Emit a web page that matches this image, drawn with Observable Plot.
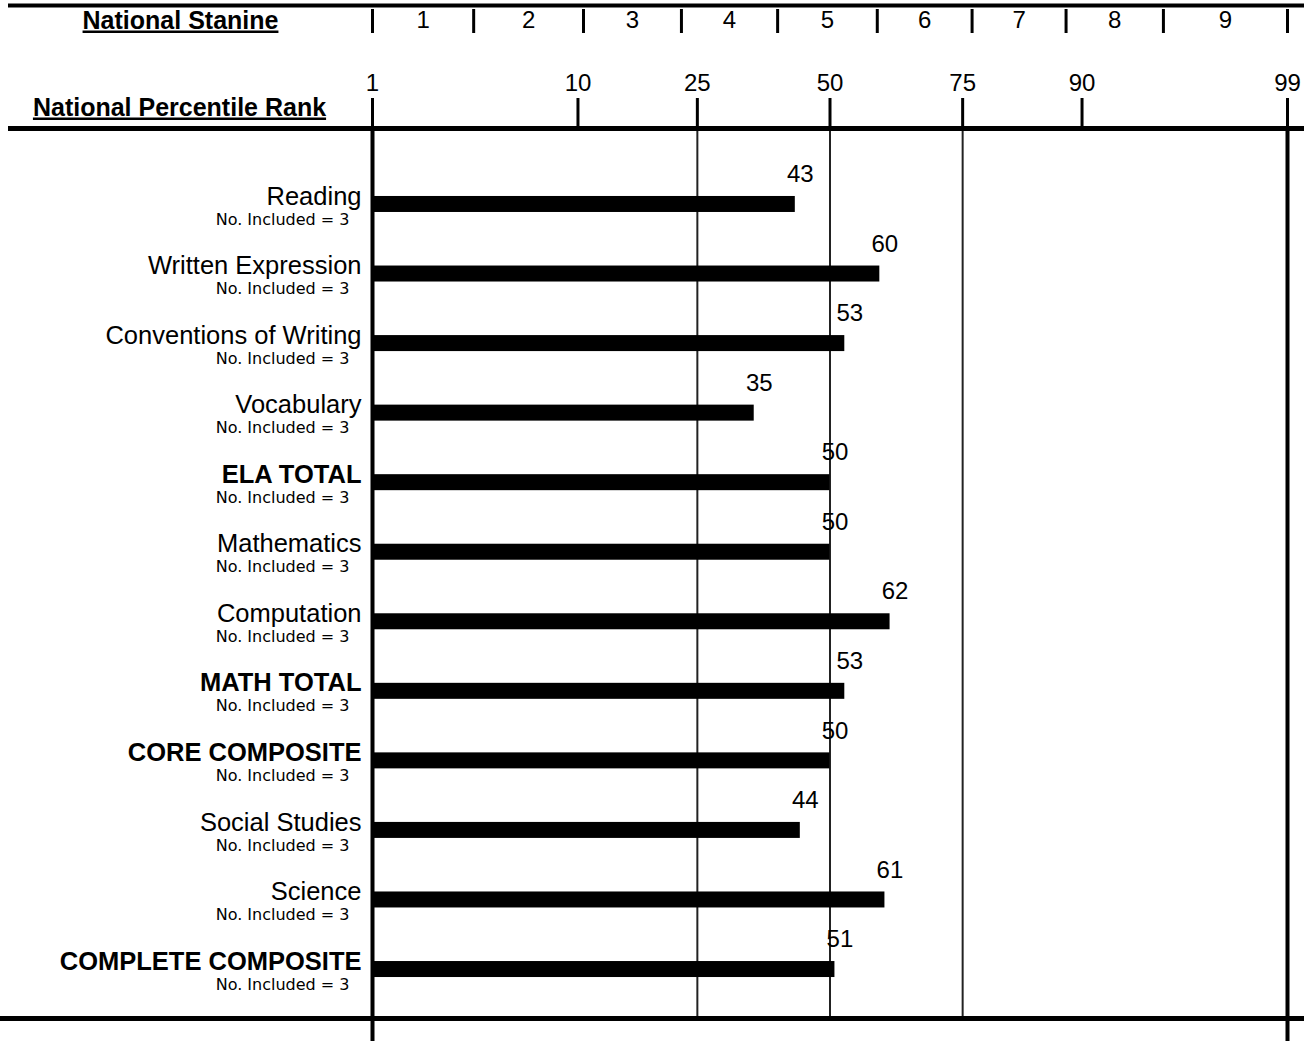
<!DOCTYPE html>
<html><head><meta charset="utf-8">
<script src="https://cdn.jsdelivr.net/npm/d3@7"></script>
<script src="https://cdn.jsdelivr.net/npm/@observablehq/plot@0.6"></script>
<style>body{margin:0;background:#fff}</style>
</head><body><div id="chart"></div>
<script>
// ---- data ----
const CATEGORIES = ["Reading","Written Expression","Conventions of Writing","Vocabulary","ELA TOTAL","Mathematics","Computation","MATH TOTAL","CORE COMPOSITE","Social Studies","Science","COMPLETE COMPOSITE"];
const BOLD = [false,false,false,false,true,false,false,true,true,false,false,true];
const N_INCLUDED = [3,3,3,3,3,3,3,3,3,3,3,3];
const PERCENTILES = [43,60,53,35,50,50,62,53,50,44,61,51];
const PR_TICKS = [1,10,25,50,75,90,99];
const REF_LINES = [25,50,75];
const EDGE_LINES = [1,99];
const STANINE_LABELS = ["1","2","3","4","5","6","7","8","9"];
const STANINE_BOUNDS = [1,3.5,10.5,22.5,39.5,59.5,76.5,88.5,95.5,99];

// inverse normal CDF (normal-probability percentile scale)
function probit(p) {
  const a=[-3.969683028665376e+01,2.209460984245205e+02,-2.759285104469687e+02,1.383577518672690e+02,-3.066479806614716e+01,2.506628277459239e+00];
  const b=[-5.447609879822406e+01,1.615858368580409e+02,-1.556989798598866e+02,6.680131188771972e+01,-1.328068155288572e+01];
  const c=[-7.784894002430293e-03,-3.223964580411365e-01,-2.400758277161838e+00,-2.549732539343734e+00,4.374664141464968e+00,2.938163982698783e+00];
  const d=[7.784695709041462e-03,3.224671290700398e-01,2.445134137142996e+00,3.754408661907416e+00];
  const pl=0.02425, ph=1-pl;
  if (p < pl) { const q=Math.sqrt(-2*Math.log(p)); return (((((c[0]*q+c[1])*q+c[2])*q+c[3])*q+c[4])*q+c[5])/((((d[0]*q+d[1])*q+d[2])*q+d[3])*q+1); }
  if (p <= ph) { const q=p-0.5, r=q*q; return (((((a[0]*r+a[1])*r+a[2])*r+a[3])*r+a[4])*r+a[5])*q/(((((b[0]*r+b[1])*r+b[2])*r+b[3])*r+b[4])*r+1); }
  const q=Math.sqrt(-2*Math.log(1-p)); return -(((((c[0]*q+c[1])*q+c[2])*q+c[3])*q+c[4])*q+c[5])/((((d[0]*q+d[1])*q+d[2])*q+d[3])*q+1);
}
const z = pr => probit(pr / 100);

const rows = CATEGORIES.map((name, i) => ({name, pr: PERCENTILES[i], bold: BOLD[i], n: N_INCLUDED[i]}));
const stanines = STANINE_LABELS.map((label, i) => ({label, lo: STANINE_BOUNDS[i], hi: STANINE_BOUNDS[i + 1]}));

const W = 1304, H = 1041;
const plot = Plot.plot({
  width: W, height: H,
  marginLeft: 372, marginRight: 17, marginTop: 128, marginBottom: 23,
  style: {fontFamily: "'Liberation Sans', Arial, sans-serif", background: "white", color: "black", overflow: "visible"},
  x: {type: "linear", domain: [z(1), z(99)]},
  y: {type: "band", domain: CATEGORIES, range: [169.2, 1003.8], paddingInner: 0.77, paddingOuter: 0.385, round: false, axis: null},
  marks: [
    // reference lines at 25/50/75
    Plot.ruleX(REF_LINES, {x: d => z(d), stroke: "#222", strokeWidth: 2}),
    // bars
    Plot.barX(rows, {y: "name", x1: () => z(1), x2: d => z(d.pr), fill: "black"}),
    // edge lines at 1 and 99
    Plot.ruleX(EDGE_LINES, {x: d => z(d), strokeWidth: 4, insetBottom: -23}),
    // horizontal rules
    Plot.ruleY([CATEGORIES[0]], {y: d => d, dy: -199, insetLeft: -364, insetRight: -17, strokeWidth: 4}),
    Plot.ruleY([CATEGORIES[0]], {y: d => d, dy: -76, insetLeft: -364, insetRight: -17, strokeWidth: 5}),
    Plot.ruleY([CATEGORIES[CATEGORIES.length - 1]], {y: d => d, dy: 49, insetLeft: -372, insetRight: -17, strokeWidth: 5}),
    // percentile axis
    Plot.axisX({anchor: "top", ticks: PR_TICKS.map(z), tickFormat: v => String(PR_TICKS.find(t => Math.abs(z(t) - v) < 1e-9)), tickSize: 31, tickPadding: 7, fontSize: 24, strokeWidth: 3, label: null}),
    // stanine ticks
    Plot.axisX({anchor: "top", ticks: STANINE_BOUNDS.map(z), tickFormat: () => "", tickSize: 24, dy: -96, strokeWidth: 3, label: null}),
    // stanine labels
    Plot.text(stanines, {x: d => (z(d.lo) + z(d.hi)) / 2, text: "label", frameAnchor: "top", dy: -108, fontSize: 24, textAnchor: "middle", lineAnchor: "middle"}),
    // header titles
    Plot.text(["National Stanine"], {text: d => d, frameAnchor: "top-left", dx: -192, dy: -108, fontSize: 25, fontWeight: "bold", textAnchor: "middle", lineAnchor: "middle"}),
    Plot.text(["National Percentile Rank"], {text: d => d, frameAnchor: "top-left", dx: -193, dy: -21, fontSize: 25, fontWeight: "bold", textAnchor: "middle", lineAnchor: "middle"}),
    // category labels
    Plot.text(rows, {filter: d => !d.bold, y: "name", text: "name", frameAnchor: "left", textAnchor: "end", lineAnchor: "middle", dx: -11, dy: -8, fontSize: 25.5}),
    Plot.text(rows, {filter: d => d.bold, y: "name", text: "name", frameAnchor: "left", textAnchor: "end", lineAnchor: "middle", dx: -11, dy: -8, fontSize: 25.5, fontWeight: "bold"}),
    Plot.text(rows, {y: "name", text: d => `No. Included = ${d.n}`, frameAnchor: "left", textAnchor: "end", lineAnchor: "middle", dx: -23, dy: 15, fontSize: 16, fontFamily: "'DejaVu Sans', sans-serif"}),
    // value labels
    Plot.text(rows, {x: d => z(d.pr), y: "name", text: d => String(d.pr), dx: 5, dy: -30, fontSize: 24, textAnchor: "middle", lineAnchor: "middle"})
  ]
});
plot.querySelectorAll("text").forEach(t => {
  if (t.textContent.startsWith("National")) t.setAttribute("text-decoration", "underline");
});
document.getElementById("chart").appendChild(plot);
</script>
</body></html>
